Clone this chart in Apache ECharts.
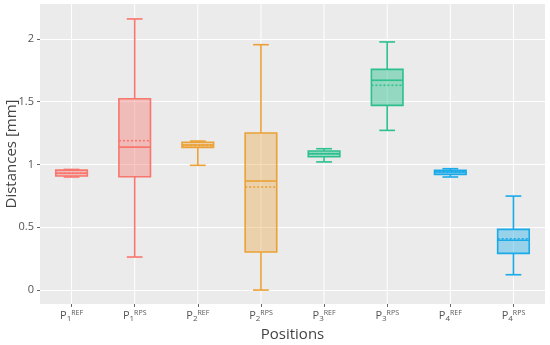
<!DOCTYPE html>
<html>
<head>
<meta charset="utf-8">
<script src="https://cdn.jsdelivr.net/npm/echarts@6/dist/echarts.min.js"></script>
<style>html,body{margin:0;padding:0;background:#fff}#chart{width:550px;height:345px}</style>
</head>
<body>
<div id="chart"></div>
<script>
// Categories: position number + method
const categories = ['P1REF', 'P1RPS', 'P2REF', 'P2RPS', 'P3REF', 'P3RPS', 'P4REF', 'P4RPS'];
const positionNums = ['1', '1', '2', '2', '3', '3', '4', '4'];
const methods = ['REF', 'RPS', 'REF', 'RPS', 'REF', 'RPS', 'REF', 'RPS'];
// Box statistics (mm)
const mins    = [0.900, 0.263, 0.993, 0.000, 1.020, 1.271, 0.900, 0.122];
const q1s     = [0.908, 0.902, 1.136, 0.303, 1.061, 1.470, 0.921, 0.292];
const medians = [0.930, 1.138, 1.155, 0.868, 1.085, 1.670, 0.940, 0.396];
const q3s     = [0.955, 1.523, 1.176, 1.250, 1.107, 1.757, 0.953, 0.483];
const maxs    = [0.960, 2.158, 1.186, 1.953, 1.125, 1.975, 0.966, 0.748];
const means   = [0.930, 1.189, 1.150, 0.820, 1.085, 1.630, 0.940, 0.408];
const yTicks  = [0, 0.5, 1, 1.5, 2];

const colors = ['#F8766D', '#F8766D', '#EBA135', '#EBA135', '#2CC08D', '#2CC08D', '#1AAAE8', '#1AAAE8'];
const fills  = ['rgba(248,118,109,0.4)', 'rgba(248,118,109,0.4)', 'rgba(235,161,53,0.35)', 'rgba(235,161,53,0.35)',
                'rgba(44,192,141,0.45)', 'rgba(44,192,141,0.45)', 'rgba(26,170,232,0.4)', 'rgba(26,170,232,0.4)'];

const data = categories.map((c, i) => [i, mins[i], q1s[i], medians[i], q3s[i], maxs[i], means[i]]);

function renderItem(params, api) {
  const idx = api.value(0);
  const bw = api.size([1, 0])[0];
  const half = bw * 0.25;
  const cap = bw * 0.125;
  const cx = api.coord([idx, 0])[0];
  const y = v => api.coord([idx, v])[1];
  const cs = params.coordSys;
  const col = colors[idx];
  const lw = 1.6;
  const yMin = y(api.value(1)), yQ1 = y(api.value(2)), yMed = y(api.value(3)),
        yQ3 = y(api.value(4)), yMax = y(api.value(5)), yMean = y(api.value(6));
  return {
    type: 'group',
    children: [
      { type: 'line', shape: { x1: cx, y1: cs.y, x2: cx, y2: cs.y + cs.height }, style: { stroke: '#ffffff', lineWidth: 1 } },
      { type: 'line', shape: { x1: cx, y1: yMax, x2: cx, y2: yQ3 }, style: { stroke: col, lineWidth: lw } },
      { type: 'line', shape: { x1: cx, y1: yQ1, x2: cx, y2: yMin }, style: { stroke: col, lineWidth: lw } },
      { type: 'line', shape: { x1: cx - cap, y1: yMax, x2: cx + cap, y2: yMax }, style: { stroke: col, lineWidth: lw } },
      { type: 'line', shape: { x1: cx - cap, y1: yMin, x2: cx + cap, y2: yMin }, style: { stroke: col, lineWidth: lw } },
      { type: 'rect', shape: { x: cx - half, y: yQ3, width: 2 * half, height: yQ1 - yQ3 }, style: { fill: fills[idx], stroke: col, lineWidth: lw } },
      { type: 'line', shape: { x1: cx - half, y1: yMed, x2: cx + half, y2: yMed }, style: { stroke: col, lineWidth: lw } },
      { type: 'line', shape: { x1: cx - half, y1: yMean, x2: cx + half, y2: yMean }, style: { stroke: col, lineWidth: lw, lineDash: [2, 2] } }
    ]
  };
}

const chart = echarts.init(document.getElementById('chart'), null, { renderer: 'canvas' });
chart.setOption({
  animation: false,
  backgroundColor: '#ffffff',
  textStyle: { fontFamily: 'Open Sans' },
  grid: { left: 40, right: 5, top: 4, bottom: 41, show: true, backgroundColor: '#EBEBEB', borderWidth: 0,
          containLabel: false, outerBoundsMode: 'none' },
  xAxis: {
    type: 'category',
    data: categories,
    boundaryGap: true,
    axisLine: { show: false, onZero: false },
    axisTick: { show: true, alignWithLabel: true, length: 3, lineStyle: { color: '#666' } },
    splitLine: { show: false },
    axisLabel: {
      interval: 0,
      margin: 5,
      formatter: (v, i) => '{p|P}{sub|' + positionNums[i] + '}{sup|' + methods[i] + '}',
      rich: {
        p: { fontSize: 11, lineHeight: 14, verticalAlign: 'middle', color: '#555', fontFamily: 'Open Sans' },
        sub: { fontSize: 8, lineHeight: 10, padding: [6, 0, 0, 0], verticalAlign: 'bottom', color: '#555', fontFamily: 'Open Sans' },
        sup: { fontSize: 7, lineHeight: 8, verticalAlign: 'top', color: '#555', fontFamily: 'Open Sans' }
      }
    },
    name: 'Positions',
    nameLocation: 'middle',
    nameMoveOverlap: false,
    nameGap: 23,
    nameTextStyle: { fontSize: 15, color: '#444', fontFamily: 'Open Sans' }
  },
  yAxis: {
    type: 'value',
    min: -0.111,
    max: 2.277,
    splitNumber: 5,
    axisLine: { show: false },
    axisTick: { show: true, length: 3, lineStyle: { color: '#666' }, customValues: yTicks },
    splitLine: { show: true, lineStyle: { color: '#ffffff', width: 1 } },
    axisLabel: {
      margin: 6,
      fontSize: 11,
      color: '#555',
      fontFamily: 'Open Sans',
      customValues: yTicks,
      formatter: v => String(v)
    },
    name: 'Distances [mm]',
    nameLocation: 'middle',
    nameMoveOverlap: false,
    nameGap: 21,
    nameTextStyle: { fontSize: 15, color: '#444', fontFamily: 'Open Sans' }
  },
  series: [{
    type: 'custom',
    renderItem: renderItem,
    encode: { x: 0, y: [1, 5] },
    data: data,
    clip: false
  }]
});
</script>
</body>
</html>
